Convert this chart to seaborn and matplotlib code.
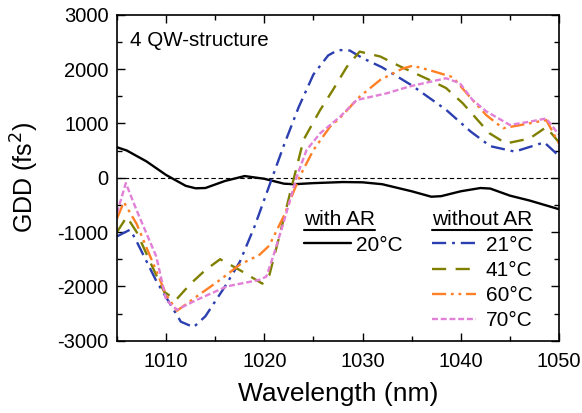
import numpy as np
import pandas as pd
import matplotlib
matplotlib.use("Agg")
import matplotlib.pyplot as plt
from matplotlib.lines import Line2D
from matplotlib.ticker import MultipleLocator
import seaborn as sns

# GDD curves (wavelength in nm, GDD in fs^2)
wl_ar20 = [1005, 1006, 1008, 1010, 1012, 1013, 1014, 1016, 1018, 1020, 1022, 1023,
           1025, 1028, 1030, 1032, 1035, 1037, 1038, 1040, 1042, 1043, 1045, 1047, 1050]
gdd_ar20 = [560, 500, 300, 50, -150, -195, -190, -60, 30, -20, -110, -120,
            -100, -80, -85, -120, -250, -350, -340, -250, -190, -200, -330, -420, -580]

wl_21 = [1005, 1006.3, 1006.8, 1009, 1010.5, 1011.5, 1012.8, 1014, 1016, 1017.5, 1019,
         1020.8, 1022, 1023.5, 1025, 1026.5, 1027.5, 1028.7, 1030, 1032, 1035, 1038.5,
         1041, 1043, 1045.5, 1048.5, 1050]
gdd_21 = [-1080, -960, -1100, -1900, -2350, -2650, -2750, -2550, -2000, -1550, -900,
          0, 600, 1300, 1900, 2250, 2350, 2340, 2200, 2030, 1700, 1250,
          850, 580, 480, 650, 400]

wl_41 = [1005, 1006, 1007, 1008.5, 1009.8, 1011, 1012.5, 1014, 1015.5, 1017.5, 1019.8,
         1020.5, 1021.5, 1022.6, 1024, 1025.7, 1027, 1028.4, 1029.7, 1031.8, 1033.8,
         1036.8, 1038.5, 1040.2, 1042.9, 1044.6, 1047, 1048.7, 1050]
gdd_41 = [-1000, -720, -1000, -1600, -2100, -2250, -1950, -1700, -1500, -1700, -1950,
          -1800, -1100, -300, 700, 1250, 1620, 2040, 2320, 2230, 2050,
          1800, 1650, 1370, 820, 630, 720, 930, 650]

wl_60 = [1005, 1005.7, 1007, 1008.5, 1010, 1011.1, 1013, 1015.5, 1017.5, 1019.5, 1020.5,
         1022, 1023.6, 1025, 1026.7, 1027.7, 1029.7, 1031.8, 1034.1, 1035.1, 1036.8,
         1039.2, 1040.9, 1042.6, 1044.3, 1047, 1048.7, 1050]
gdd_60 = [-750, -450, -850, -1500, -2150, -2450, -2200, -1880, -1600, -1420, -1250,
          -700, 20, 510, 940, 1100, 1490, 1800, 2010, 2060, 1980,
          1850, 1490, 1150, 910, 1000, 1060, 630]

wl_70 = [1005, 1005.9, 1007, 1009, 1010, 1011.1, 1013.1, 1016.2, 1019.5, 1020.2, 1020.9,
         1022, 1023.3, 1024.3, 1025.7, 1027.7, 1029.4, 1032.4, 1034.8, 1038.5, 1039.9,
         1041.2, 1042.6, 1045, 1047, 1048.7, 1050]
gdd_70 = [-650, -100, -600, -1450, -2250, -2430, -2250, -2000, -1880, -1820, -1450,
          -800, 20, 510, 820, 1120, 1430, 1550, 1680, 1830, 1740,
          1430, 1220, 970, 1030, 1090, 790]

series = ["20°C", "21°C", "41°C", "60°C", "70°C"]
colors = {"20°C": "#000000", "21°C": "#2b3fb0", "41°C": "#808000",
          "60°C": "#ff8026", "70°C": "#e27fd6"}
dashes = {"20°C": "", "21°C": (6, 2.5, 1.2, 2.5), "41°C": (6, 4),
          "60°C": (6, 2, 1.2, 2, 1.2, 2), "70°C": (2.5, 1.2)}

frames = []
for name, wl, g in zip(series, [wl_ar20, wl_21, wl_41, wl_60, wl_70],
                       [gdd_ar20, gdd_21, gdd_41, gdd_60, gdd_70]):
    frames.append(pd.DataFrame({"wavelength": wl, "gdd": g, "series": name}))
df = pd.concat(frames, ignore_index=True)

sns.set_theme(style="ticks")
plt.rcParams["font.family"] = ["Liberation Sans", "DejaVu Sans"]
plt.rcParams["axes.unicode_minus"] = False
plt.rcParams["text.color"] = "black"
plt.rcParams["axes.labelcolor"] = "black"

fig = plt.figure(figsize=(5.82, 4.13), dpi=100)
ax = fig.add_axes([0.201, 0.175, 0.7595, 0.7895])

ax.axhline(0, color="black", lw=0.8, ls=(0, (4, 2.5)), zorder=1)

sns.lineplot(data=df, x="wavelength", y="gdd", hue="series", style="series",
             palette=colors, dashes=dashes, hue_order=series, style_order=series,
             estimator=None, sort=False, legend=False, lw=1.7, ax=ax)

ax.set_xlim(1005, 1050)
ax.set_ylim(-3000, 3000)
ax.xaxis.set_major_locator(MultipleLocator(10))
ax.xaxis.set_minor_locator(MultipleLocator(5))
ax.yaxis.set_major_locator(MultipleLocator(1000))
ax.yaxis.set_minor_locator(MultipleLocator(500))
ax.tick_params(which="both", direction="in", top=True, right=True, width=1.0,
               labelsize=14.5, colors="black")
ax.tick_params(axis="x", pad=8)
ax.tick_params(axis="y", pad=6)
ax.tick_params(which="major", length=6)
ax.tick_params(which="minor", length=3.5)
for s in ax.spines.values():
    s.set_linewidth(1.2)
    s.set_color("black")

ax.set_xlabel("Wavelength (nm)", fontsize=19, labelpad=8)
ax.set_ylabel("GDD (fs$^2$)", fontsize=18, labelpad=12)
ax.yaxis.label.set_math_fontfamily("dejavusans")

ax.text(0.03, 0.92, "4 QW-structure", transform=ax.transAxes, fontsize=14.8,
        ha="left", va="center")

def handle(name):
    return Line2D([], [], color=colors[name], lw=1.7,
                  ls=(0, dashes[name]) if dashes[name] else "-")

leg1 = ax.legend(handles=[handle("20°C")], labels=["20°C"], title="with AR",
                 loc="upper left", bbox_to_anchor=(0.405, 0.425), frameon=False,
                 fontsize=15, title_fontsize=15, handlelength=2.25,
                 handletextpad=0.25, alignment="left", borderaxespad=0,
                 labelspacing=0.3)
ax.add_artist(leg1)
leg2 = ax.legend(handles=[handle(n) for n in series[1:]], labels=series[1:],
                 title="without AR", loc="upper left", bbox_to_anchor=(0.694, 0.425),
                 frameon=False, fontsize=15, title_fontsize=15, handlelength=2.1,
                 handletextpad=0.48, alignment="left", borderaxespad=0,
                 labelspacing=0.3)

fig.canvas.draw()
for leg in (leg1, leg2):
    bb = leg.get_title().get_window_extent()
    y = bb.y0 - 0.5
    fig.add_artist(Line2D([bb.x0, bb.x1], [y, y], transform=None,
                          color="black", lw=1.5))

fig.savefig("out.png", dpi=100)
